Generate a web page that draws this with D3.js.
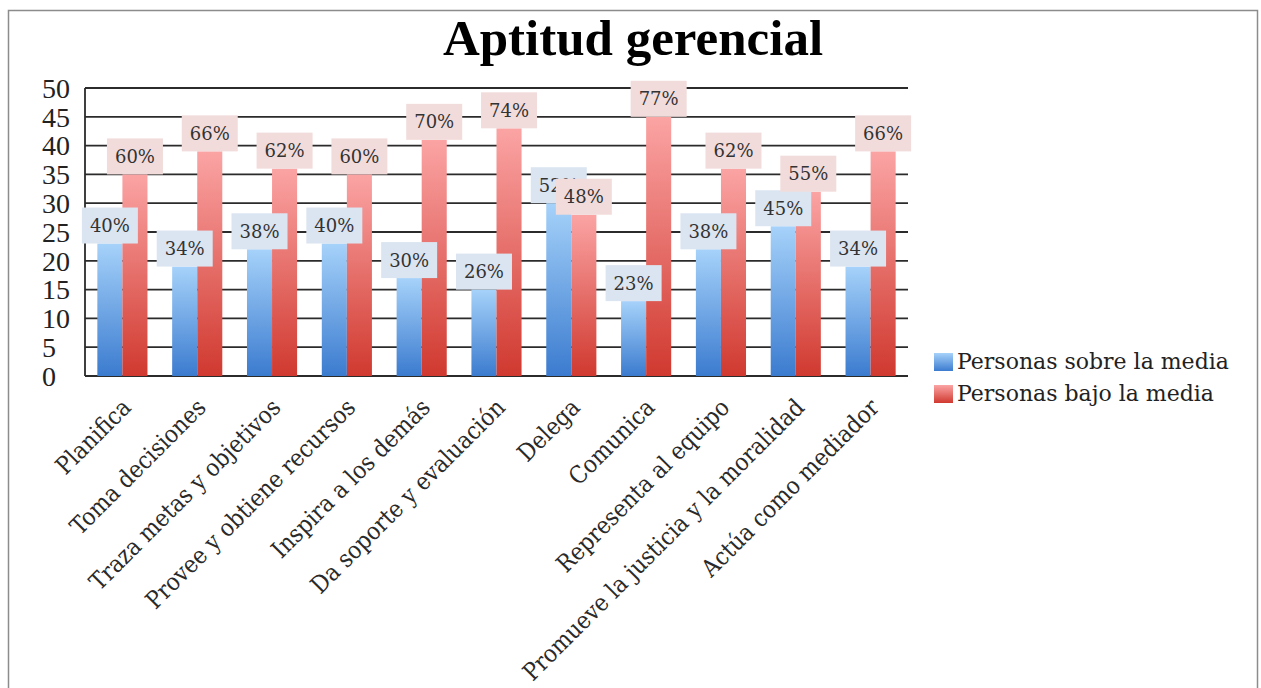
<!DOCTYPE html>
<html>
<head>
<meta charset="utf-8">
<script src="https://cdn.jsdelivr.net/npm/d3@7"></script>
<style>
  body { margin: 0; background: #fff; }
  svg { display: block; }
</style>
</head>
<body>
<div id="chart"></div>
<script>
// Chart data
const categories = [
  'Planifica', 'Toma decisiones', 'Traza metas y objetivos', 'Provee y obtiene recursos',
  'Inspira a los demás', 'Da soporte y evaluación', 'Delega', 'Comunica',
  'Representa al equipo', 'Promueve la justicia y la moralidad', 'Actúa como mediador'
];
const seriesNames = ['Personas sobre la media', 'Personas bajo la media'];
const sobreValues = [23, 19, 22, 23, 17, 15, 30, 13, 22, 26, 19];
const bajoValues = [35, 39, 36, 35, 41, 43, 28, 45, 36, 32, 39];
const sobreLabels = ['40%', '34%', '38%', '40%', '30%', '26%', '52%', '23%', '38%', '45%', '34%'];
const bajoLabels = ['60%', '66%', '62%', '60%', '70%', '74%', '48%', '77%', '62%', '55%', '66%'];
const yTicks = [0, 5, 10, 15, 20, 25, 30, 35, 40, 45, 50];

const width = 1261, height = 688;
const plot = { left: 85, right: 908, top: 88, bottom: 376 };

const svg = d3.select('#chart').append('svg')
  .attr('width', width)
  .attr('height', height);

// gradients, one per series, stretched over each bar
const defs = svg.append('defs');
const gradStops = [
  { id: 'gradSobre', top: '#a6d2fa', bottom: '#3b7bcf' },
  { id: 'gradBajo', top: '#fba4a4', bottom: '#d0392f' }
];
gradStops.forEach(g => {
  const lg = defs.append('linearGradient')
    .attr('id', g.id).attr('x1', 0).attr('y1', 0).attr('x2', 0).attr('y2', 1);
  lg.append('stop').attr('offset', '0%').attr('stop-color', g.top);
  lg.append('stop').attr('offset', '100%').attr('stop-color', g.bottom);
});

// outer chart frame
svg.append('rect')
  .attr('x', 8.5).attr('y', 10.5)
  .attr('width', 1249).attr('height', 690)
  .attr('fill', 'none')
  .attr('stroke', '#8c8c8c')
  .attr('stroke-width', 1.5);

// title
svg.append('text')
  .attr('x', 633).attr('y', 55)
  .attr('text-anchor', 'middle')
  .attr('font-family', '"Liberation Serif", serif')
  .attr('font-weight', 'bold')
  .attr('font-size', '51px')
  .attr('fill', '#000')
  .text('Aptitud gerencial');

// scales
const x0 = d3.scaleBand()
  .domain(categories)
  .range([plot.left, plot.right])
  .paddingInner(0.33)
  .paddingOuter(0.165);

const x1 = d3.scaleBand()
  .domain([0, 1])
  .range([0, x0.bandwidth()]);

const y = d3.scaleLinear()
  .domain([0, 50])
  .range([plot.bottom, plot.top]);

// gridlines
svg.append('g').selectAll('line')
  .data(yTicks)
  .join('line')
  .attr('x1', plot.left).attr('x2', plot.right)
  .attr('y1', d => y(d)).attr('y2', d => y(d))
  .attr('stroke', '#2b2b2b')
  .attr('stroke-width', 1.8);

// y axis line
svg.append('line')
  .attr('x1', plot.left).attr('x2', plot.left)
  .attr('y1', y(50)).attr('y2', y(0))
  .attr('stroke', '#2b2b2b')
  .attr('stroke-width', 1.8);

// y tick labels (left aligned, like the original)
svg.append('g').selectAll('text')
  .data(yTicks)
  .join('text')
  .attr('x', 42)
  .attr('y', d => y(d))
  .attr('dy', '0.35em')
  .attr('font-family', '"Liberation Serif", serif')
  .attr('font-size', '28px')
  .attr('fill', '#222')
  .text(d => d);

// bars
const rows = categories.map((c, i) => ({
  cat: c,
  vals: [sobreValues[i], bajoValues[i]],
  labels: [sobreLabels[i], bajoLabels[i]]
}));

const groups = svg.append('g').selectAll('g')
  .data(rows)
  .join('g')
  .attr('transform', d => `translate(${x0(d.cat)},0)`);

groups.selectAll('rect')
  .data(d => d.vals.map((v, s) => ({ v, s })))
  .join('rect')
  .attr('x', d => x1(d.s))
  .attr('width', x1.bandwidth())
  .attr('y', d => y(d.v))
  .attr('height', d => y(0) - y(d.v))
  .attr('fill', d => d.s === 0 ? 'url(#gradSobre)' : 'url(#gradBajo)');

// category labels, rotated
svg.append('g').selectAll('text')
  .data(categories)
  .join('text')
  .attr('text-anchor', 'end')
  .attr('transform', d => `translate(${x0(d) + x0.bandwidth() / 2 + 10},${plot.bottom + 33}) rotate(-45)`)
  .attr('font-family', '"DejaVu Serif Condensed", "DejaVu Serif", serif')
  .attr('font-stretch', 'condensed')
  .attr('font-size', '24px')
  .attr('fill', '#2a2a2a')
  .text(d => d);

// data labels: boxes above bars, blue ones first so red ones sit on top
const boxW = 56, boxH = 36;
const labelColors = ['#dbe5f1', '#f2dcdb'];
[0, 1].forEach(s => {
  const lab = svg.append('g').selectAll('g')
    .data(rows)
    .join('g')
    .attr('transform', d => `translate(${x0(d.cat) + x1(s) + x1.bandwidth() / 2},${y(d.vals[s])})`);
  lab.append('rect')
    .attr('x', -boxW / 2).attr('y', -boxH)
    .attr('width', boxW).attr('height', boxH)
    .attr('fill', labelColors[s]);
  lab.append('text')
    .attr('text-anchor', 'middle')
    .attr('y', -boxH / 2)
    .attr('dy', '0.36em')
    .attr('font-family', '"DejaVu Serif", serif')
    .attr('font-size', '18px')
    .attr('fill', '#333')
    .text(d => d.labels[s]);
});

// legend
const legend = svg.append('g')
  .attr('transform', 'translate(934,353)');
const legendItems = legend.selectAll('g')
  .data(seriesNames)
  .join('g')
  .attr('transform', (d, i) => `translate(0,${i * 32})`);
legendItems.append('rect')
  .attr('width', 19).attr('height', 18)
  .attr('fill', (d, i) => i === 0 ? 'url(#gradSobre)' : 'url(#gradBajo)');
legendItems.append('text')
  .attr('x', 23).attr('y', 16)
  .attr('font-family', '"DejaVu Serif", serif')
  .attr('font-size', '22px')
  .attr('fill', '#222')
  .text(d => d);
</script>
</body>
</html>
